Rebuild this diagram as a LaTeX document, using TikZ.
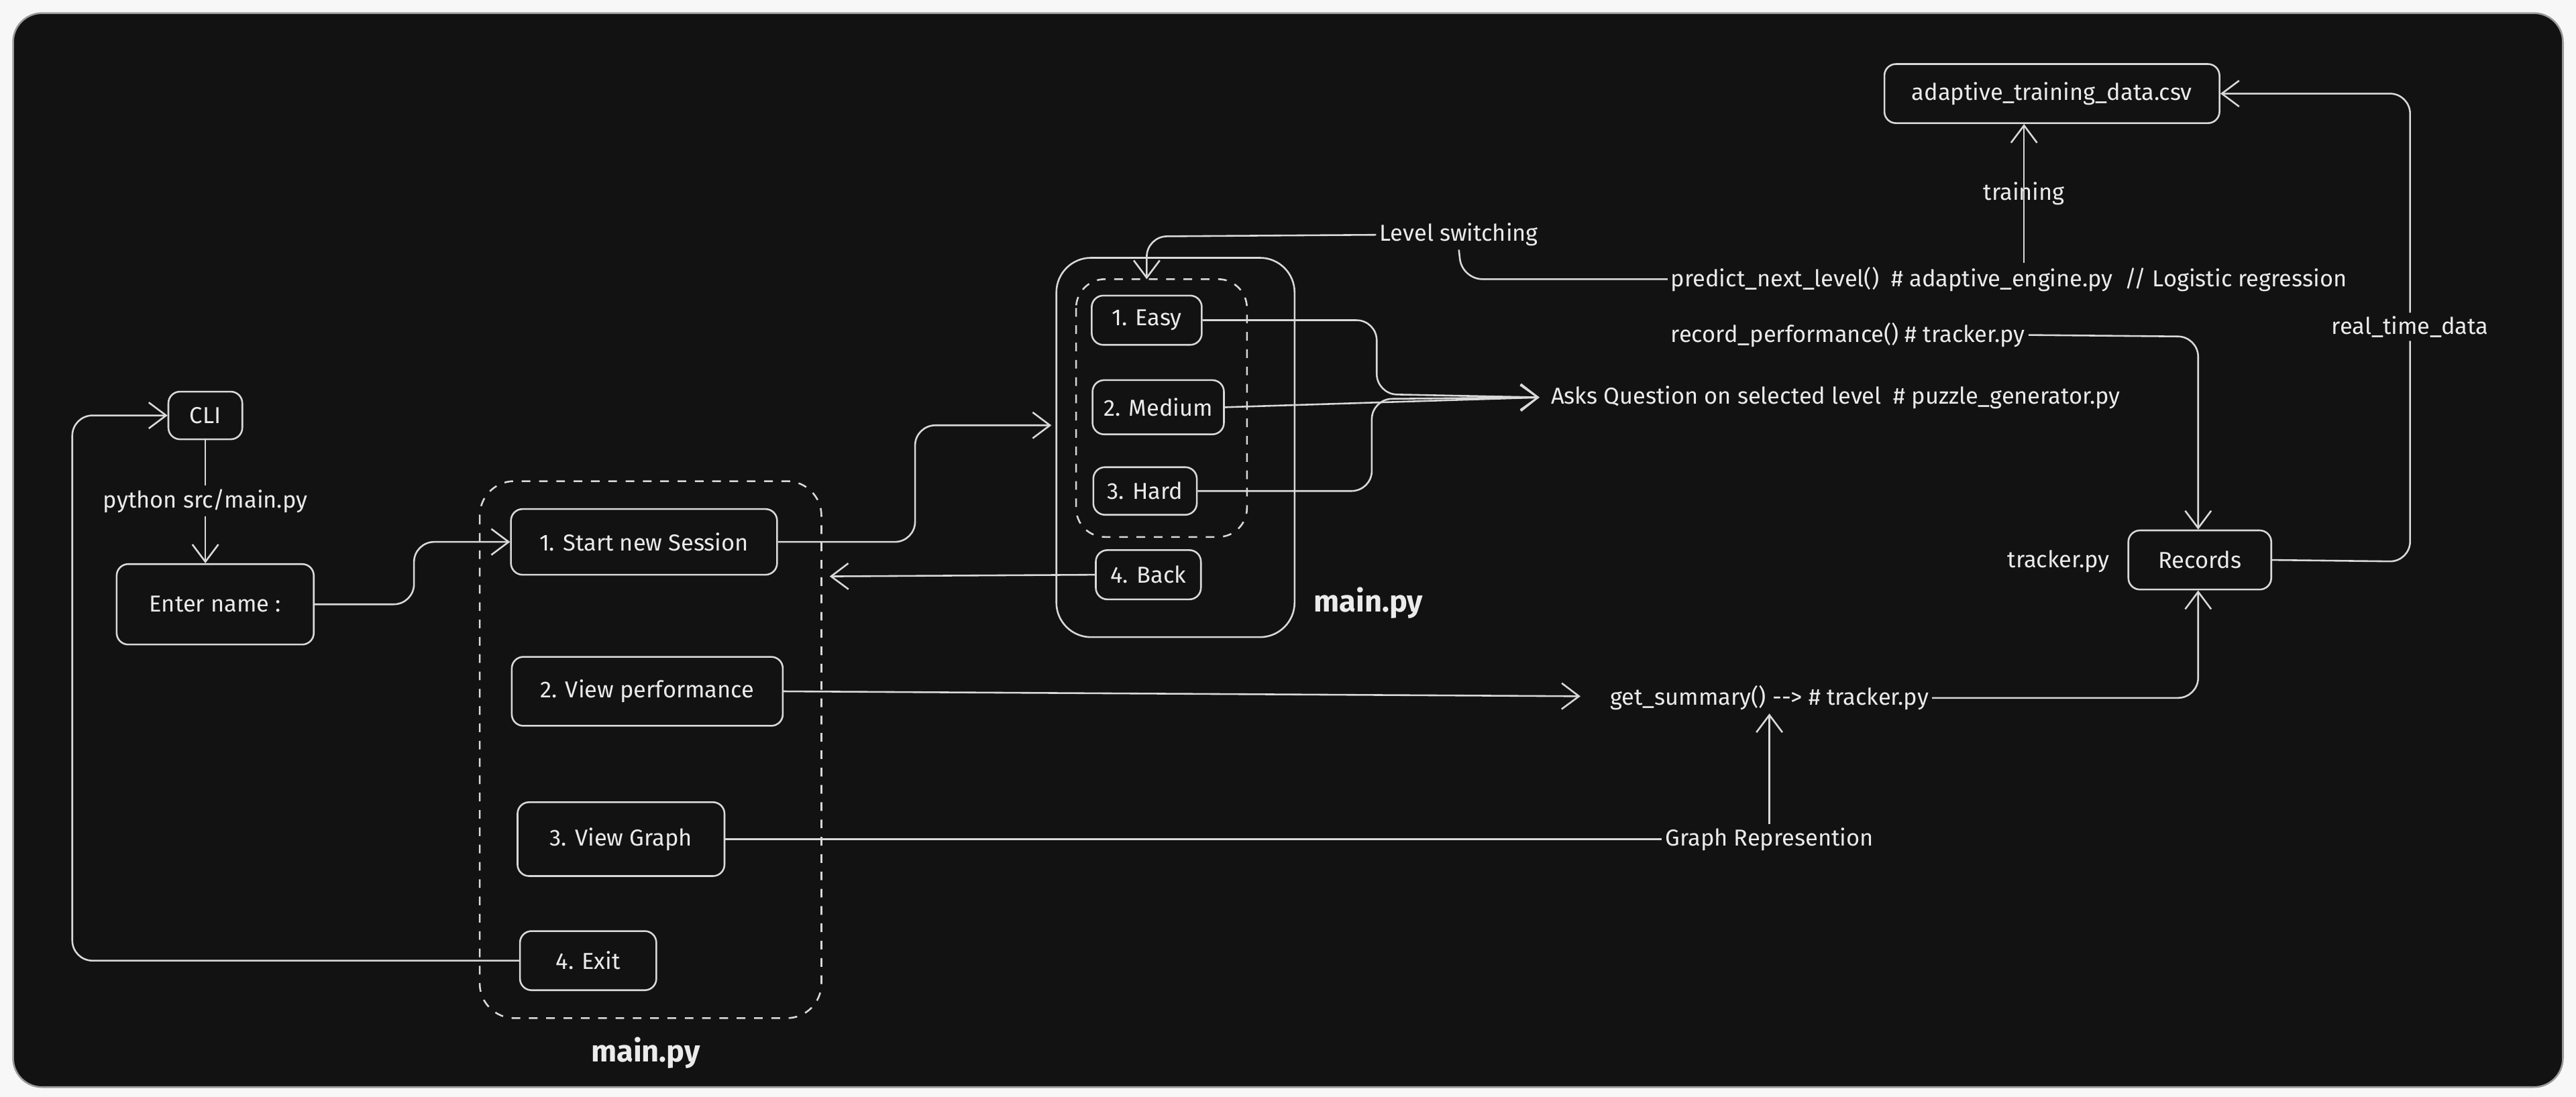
\documentclass[tikz,border=0pt]{standalone}
\usepackage{fontspec}
\setmainfont{Fira Sans}
\usetikzlibrary{arrows.meta}
\begin{document}
\begin{tikzpicture}[x=0.02cm,y=-0.02cm,
  every node/.style={text=white!92!black,font=\fontsize{8}{10}\selectfont},
  box/.style={draw=white!85!black,line width=0.6pt,rounded corners=4pt,inner sep=0pt},
  lbl/.style={inner sep=1pt},
  big/.style={font=\fontsize{10.5}{12}\selectfont\bfseries,text=white!92!black},
  con/.style={draw=white!85!black,line width=0.6pt,rounded corners=7pt},
  arr/.style={con,-{Straight Barb[length=6pt,width=9pt]}}]
\useasboundingbox (0,0) rectangle (1568,668);
\fill[white!97!black] (0,0) rectangle (1568,668);
\draw[white!60!black,fill=black!93!white,rounded corners=10pt,line width=0.6pt] (8,8) rectangle (1560,662);
% main dashed group
\draw[white!85!black,dashed,rounded corners=12pt,line width=0.6pt] (292,293) rectangle (500,620);
\node[big] (m1) at (393,641) {main.py};
\draw[white!85!black,rounded corners=12pt,line width=0.6pt] (643,157) rectangle (788,388);
\coordinate (obx) at (640,259);
\draw[white!85!black,dashed,rounded corners=10pt,line width=0.6pt] (655,170) rectangle (759,327);
\coordinate (ibx) at (698,170);
\node[big] (m2) at (833,367) {main.py};
% nodes
\node[box,minimum width=0.9cm,minimum height=0.58cm] (cli) at (125,253) {CLI};
\node[box,minimum width=2.4cm,minimum height=0.98cm] (name) at (131,368) {Enter name :};
\node[box,minimum width=3.24cm,minimum height=0.8cm] (start) at (392,330) {1. Start new Session};
\node[box,minimum width=3.3cm,minimum height=0.84cm] (perf) at (394,421) {2. View performance};
\node[box,minimum width=2.52cm,minimum height=0.9cm] (graph) at (378,511) {3. View Graph};
\node[box,minimum width=1.66cm,minimum height=0.72cm] (exit) at (358,585) {4. Exit};
\node[box,minimum width=1.34cm,minimum height=0.6cm] (easy) at (698,195) {1. Easy};
\node[box,minimum width=1.6cm,minimum height=0.66cm] (med) at (705,248) {2. Medium};
\node[box,minimum width=1.26cm,minimum height=0.58cm] (hard) at (697,299) {3. Hard};
\node[box,minimum width=1.28cm,minimum height=0.6cm] (back) at (699,350) {4. Back};
\node[box,minimum width=4.08cm,minimum height=0.72cm] (csv) at (1249,57) {adaptive\_training\_data.csv};
\node[box,minimum width=1.74cm,minimum height=0.72cm] (rec) at (1339,341) {Records};
% text nodes
\node[lbl] (py) at (125,305) {python src/main.py};
\node[lbl,anchor=west] (ask) at (942,242) {Asks Question on selected level\ \ \# puzzle\_generator.py};
\coordinate (askin) at (937,242);
\node[lbl] (lvl) at (888,143) {Level switching};
\node[lbl,anchor=west] (pred) at (1015,170) {predict\_next\_level()\ \ \# adaptive\_engine.py\ \ // Logistic regression};
\node[lbl,anchor=west] (recp) at (1015,204) {record\_performance() \# tracker.py};
\node[lbl] (train) at (1232,118) {training};
\node[lbl] (rtd) at (1467,199) {real\_time\_data};
\node[lbl] (trk) at (1253,342) {tracker.py};
\node[lbl] (sum) at (1077,425) {get\_summary() -{}-{}> \# tracker.py};
\node[lbl] (grep) at (1077,511) {Graph Represention};
% connectors
\draw[con] (cli.south) -- (py.north);
\draw[arr] (py.south) -- (name.north -| py.south);
\draw[arr] (name.east) -- (252,368) -- (252,330) -- (start.west);
\draw[arr] (start.east) -- (557,330) -- (557,259) -- (obx);
\draw[arr] (back.west) -- (505,351);
\draw[arr] (easy.east) -- (838,195) -- (838,240) -- (askin);
\draw[arr] (med.east) -- (askin);
\draw[arr] (hard.east) -- (835,299) -- (835,243) -- (askin);
\draw[con] (pred.west) -- (890,170) -- (lvl.south);
\draw[arr] (lvl.west) -- (698,144) -- (ibx);
\draw[arr] (1232,160) -- (csv.south -| 1232,0);
\draw[arr] (recp.east) -- (1338,205) -- (rec.north -| 1338,0);
\draw[con] (rec.east) -- (1467,342) -- (rtd.south);
\draw[arr] (rtd.north) -- (1467,57) -- (csv.east);
\draw[arr] (perf.east) -- (962,424);
\draw[arr] (sum.east) -- (1338,425) -- (rec.south -| 1338,0);
\draw[con] (graph.east) -- (grep.west);
\draw[arr] (grep.north) -- (sum.south);
\draw[arr] (exit.west) -- (44,585) -- (44,253) -- (cli.west);
\end{tikzpicture}
\end{document}
